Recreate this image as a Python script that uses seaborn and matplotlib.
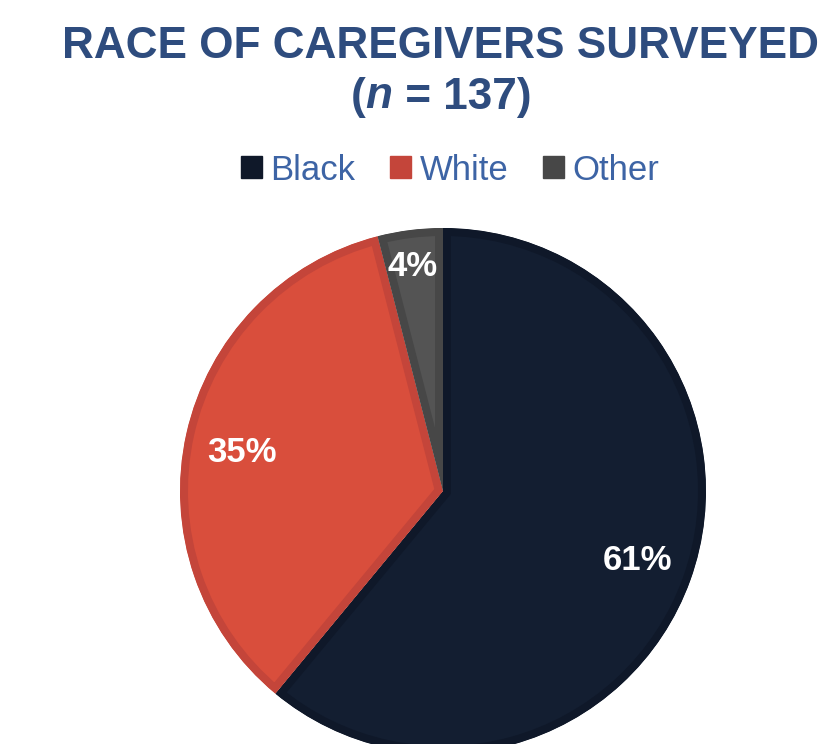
import matplotlib
matplotlib.use("Agg")
import matplotlib.pyplot as plt
import seaborn as sns
import pandas as pd
from matplotlib.patches import Patch

categories = ["Black", "White", "Other"]
values = [61, 35, 4]
labels = ["61%", "35%", "4%"]
fill_colors = ["#131E31", "#D94E3C", "#545454"]
edge_colors = ["#0F1829", "#C4453A", "#474747"]

df = pd.DataFrame({"race": categories, "pct": values})

sns.set_theme(style="white")
plt.rcParams["font.family"] = ["Liberation Sans", "DejaVu Sans"]

W, H = 822, 744
fig = plt.figure(figsize=(W / 100, H / 100), dpi=100)

cx, cy, r = 443, 491, 263
ax = fig.add_axes([(cx - r) / W, (H - cy - r) / H, 2 * r / W, 2 * r / H])
wedges, _ = ax.pie(df["pct"], colors=fill_colors, startangle=90, counterclock=False,
                   radius=1.0, wedgeprops=dict(linewidth=11.5))
ax.set_xlim(-1, 1)
ax.set_ylim(-1, 1)
ax.set_aspect("equal")
ax.axis("off")
for w, ec in zip(wedges, edge_colors):
    w.set_edgecolor(ec)
    w.set_clip_on(True)
    w.set_clip_path(w.get_path(), w.get_transform())

label_px = [(638, 560), (242, 452), (413, 267)]
for lab, (px, py) in zip(labels, label_px):
    x = (px - cx) / r
    y = (cy - py) / r
    ax.text(x, y, lab, color="white", fontsize=25, fontweight="bold",
            ha="center", va="center")

title_color = "#2E4C7E"
fig.text(440 / W, 1 - 47 / H, "RACE OF CAREGIVERS SURVEYED", color=title_color,
         fontsize=31.8, fontweight="bold", ha="center", va="center")

renderer = fig.canvas.get_renderer()
parts = [("(", "normal"), ("n", "italic"), (" = 137)", "normal")]
tmp = []
for s, st in parts:
    t = fig.text(0, 1 - 97 / H, s, color=title_color, fontsize=31.8, fontweight="bold",
                 fontstyle=st, ha="left", va="center")
    tmp.append(t)
widths = [t.get_window_extent(renderer).width for t in tmp]
total = sum(widths)
x0 = 441 - total / 2
for t, wpx in zip(tmp, widths):
    t.set_x(x0 / W)
    x0 += wpx

handles = [Patch(facecolor=c, edgecolor=c) for c in edge_colors]
leg = fig.legend(handles, categories, loc="center", bbox_to_anchor=(450 / W, 1 - 170 / H),
                 ncol=3, frameon=False, fontsize=25, handlelength=0.6, handleheight=0.6,
                 handletextpad=0.25, columnspacing=1.0, labelcolor="#3D64A5")

fig.savefig("out.png", dpi=100)
